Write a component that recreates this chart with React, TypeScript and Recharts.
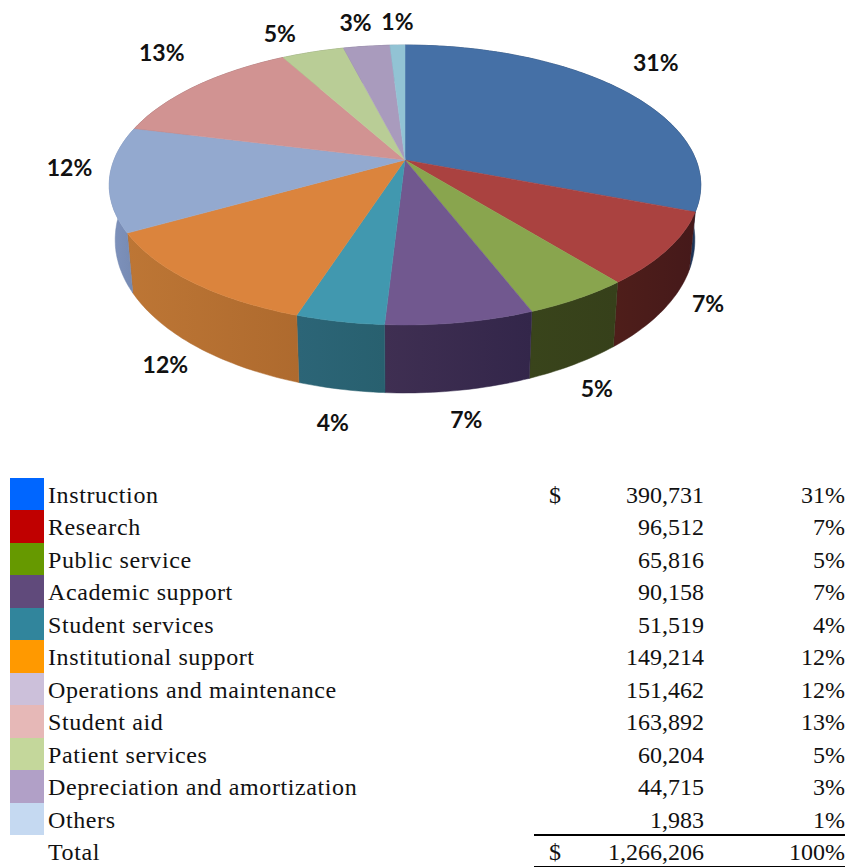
import { PieChart, Pie } from "recharts";

const categories = [
  "Instruction",
  "Research",
  "Public service",
  "Academic support",
  "Student services",
  "Institutional support",
  "Operations and maintenance",
  "Student aid",
  "Patient services",
  "Depreciation and amortization",
  "Others",
];
const amounts = ["390,731", "96,512", "65,816", "90,158", "51,519", "149,214", "151,462", "163,892", "60,204", "44,715", "1,983"];
const percents = ["31%", "7%", "5%", "7%", "4%", "12%", "12%", "13%", "5%", "3%", "1%"];
// slice sizes as read off the drawn wedges, they don't follow the table exactly
const sliceValues = [390400, 105500, 62250, 86500, 51700, 149500, 153000, 165300, 51350, 38300, 12300];

const swatchColors = ["#0066ff", "#c00000", "#669900", "#604a7b", "#31859c", "#ff9900", "#ccc0da", "#e6b8b7", "#c4d79b", "#b1a0c7", "#c5d9f1"];
const topColors = ["#4570a6", "#aa4240", "#89a54e", "#71588f", "#4198af", "#db843d", "#93a9cf", "#d19392", "#b9cd96", "#a99bbd", "#92c3d4"];
const wallLeft = ["#203c66", "#4f1e1a", "#39441b", "#3f2f52", "#2c6577", "#bd7635", "#7f93bd", "#8a6060", "#7a8860", "#6f6580", "#60808c"];
const wallRight = ["#1d3558", "#45191a", "#36401a", "#33264a", "#28606f", "#ae6a2e", "#7488b0", "#8a6060", "#7a8860", "#6f6580", "#60808c"];

// label position relative to the slice's rim point
const labelNudges = [[33, -28], [40, 54], [19, 89], [6, 97], [-7, 100], [-26, 82], [-40, -12], [-35, -34], [-33, -19], [-11, -24], [0, -24]];

const topData = categories.map((name, i) => ({ name, value: sliceValues[i], fill: topColors[i] }));

const CX = 405;
const CY = 160;
const RX = 291;
const RY = 135.5;
const PERSP = 0.1786;

// angle in recharts degrees -> point on the tilted top face
function rim(angle: number) {
  const t = ((90 - angle) * Math.PI) / 180;
  const u = Math.sin(t);
  const v = -Math.cos(t);
  const w = 1 - PERSP * v;
  return { x: CX + (RX * u) / w, y: CY + (RY * v) / w, v };
}

function lower(angle: number) {
  const p = rim(angle);
  return { x: CX + (p.x - CX) * 0.98, y: p.y + 52 + 16 * p.v };
}

function arc(start: number, end: number, fn: (a: number) => { x: number; y: number }) {
  const n = Math.max(2, Math.ceil(Math.abs(end - start)));
  const pts: string[] = [];
  for (let i = 0; i <= n; i++) {
    const p = fn(start + ((end - start) * i) / n);
    pts.push(`${p.x.toFixed(1)},${p.y.toFixed(1)}`);
  }
  return pts;
}

function TopFace(props: any) {
  const pts = arc(props.startAngle, props.endAngle, rim);
  return <path d={`M${CX},${CY} L${pts.join(" L")} Z`} fill={props.fill} stroke={props.fill} strokeWidth={0.5} />;
}

function WallFace(props: any) {
  const i = categories.indexOf(props.name);
  const top = arc(props.startAngle, props.endAngle, rim);
  const bottom = arc(props.startAngle, props.endAngle, lower).reverse();
  return (
    <g>
      <defs>
        <linearGradient id={`wall-${i}`} x1="0" y1="0" x2="1" y2="0">
          <stop offset="0%" stopColor={wallLeft[i]} />
          <stop offset="100%" stopColor={wallRight[i]} />
        </linearGradient>
      </defs>
      <path d={`M${top.join(" L")} L${bottom.join(" L")} Z`} fill={`url(#wall-${i})`} stroke={wallRight[i]} strokeWidth={0.5} />
    </g>
  );
}

function SliceLabel(props: any) {
  const i = props.index;
  const p = rim(props.midAngle);
  return (
    <text
      x={p.x + labelNudges[i][0]}
      y={p.y + labelNudges[i][1]}
      textAnchor="middle"
      dominantBaseline="central"
      fontFamily="Lato, 'Open Sans', sans-serif"
      fontWeight={700}
      fontSize={23}
      fill="#111"
    >
      {percents[i]}
    </text>
  );
}

const ROW_TOP = 479;
const ROW_H = 32.45;

const cell: React.CSSProperties = { position: "absolute", lineHeight: `${ROW_H}px`, whiteSpace: "nowrap" };

function TableRow({ index, label, amount, percent, dollar }: { index: number; label: string; amount: string; percent: string; dollar?: boolean }) {
  const top = ROW_TOP + index * ROW_H;
  return (
    <>
      {index < swatchColors.length && (
        <div style={{ position: "absolute", left: 10, top: top - 1, width: 34, height: ROW_H + 0.5, background: swatchColors[index] }} />
      )}
      <div style={{ ...cell, left: 48, top, letterSpacing: 0.6 }}>{label}</div>
      {dollar && <div style={{ ...cell, left: 549, top }}>$</div>}
      <div style={{ ...cell, right: 848 - 704, top }}>{amount}</div>
      <div style={{ ...cell, right: 848 - 845, top }}>{percent}</div>
    </>
  );
}

export default function App() {
  return (
    <div
      style={{
        position: "absolute",
        left: 0,
        top: 0,
        width: 848,
        height: 867,
        overflow: "hidden",
        background: "#fff",
        fontFamily: "'Liberation Serif', serif",
        fontSize: 24,
        color: "#111",
      }}
    >
      <PieChart width={848} height={470} style={{ position: "absolute", left: 0, top: 0 }}>
        <Pie
          data={topData}
          dataKey="value"
          cx={CX}
          cy={CY}
          outerRadius={RX}
          startAngle={90}
          endAngle={-270}
          isAnimationActive={false}
          shape={WallFace}
          stroke="none"
        />
        <Pie
          data={topData}
          dataKey="value"
          cx={CX}
          cy={CY}
          outerRadius={RX}
          startAngle={90}
          endAngle={-270}
          isAnimationActive={false}
          shape={TopFace}
          stroke="none"
          label={SliceLabel}
          labelLine={false}
        />
      </PieChart>
      {categories.map((c, i) => (
        <TableRow key={c} index={i} label={c} amount={amounts[i]} percent={percents[i]} dollar={i === 0} />
      ))}
      <TableRow index={11} label="Total" amount="1,266,206" percent="100%" dollar />
      <div style={{ position: "absolute", left: 534, width: 311, top: 834, height: 2, background: "#000" }} />
      <div style={{ position: "absolute", left: 534, width: 311, top: 866, height: 1, background: "#000" }} />
    </div>
  );
}
